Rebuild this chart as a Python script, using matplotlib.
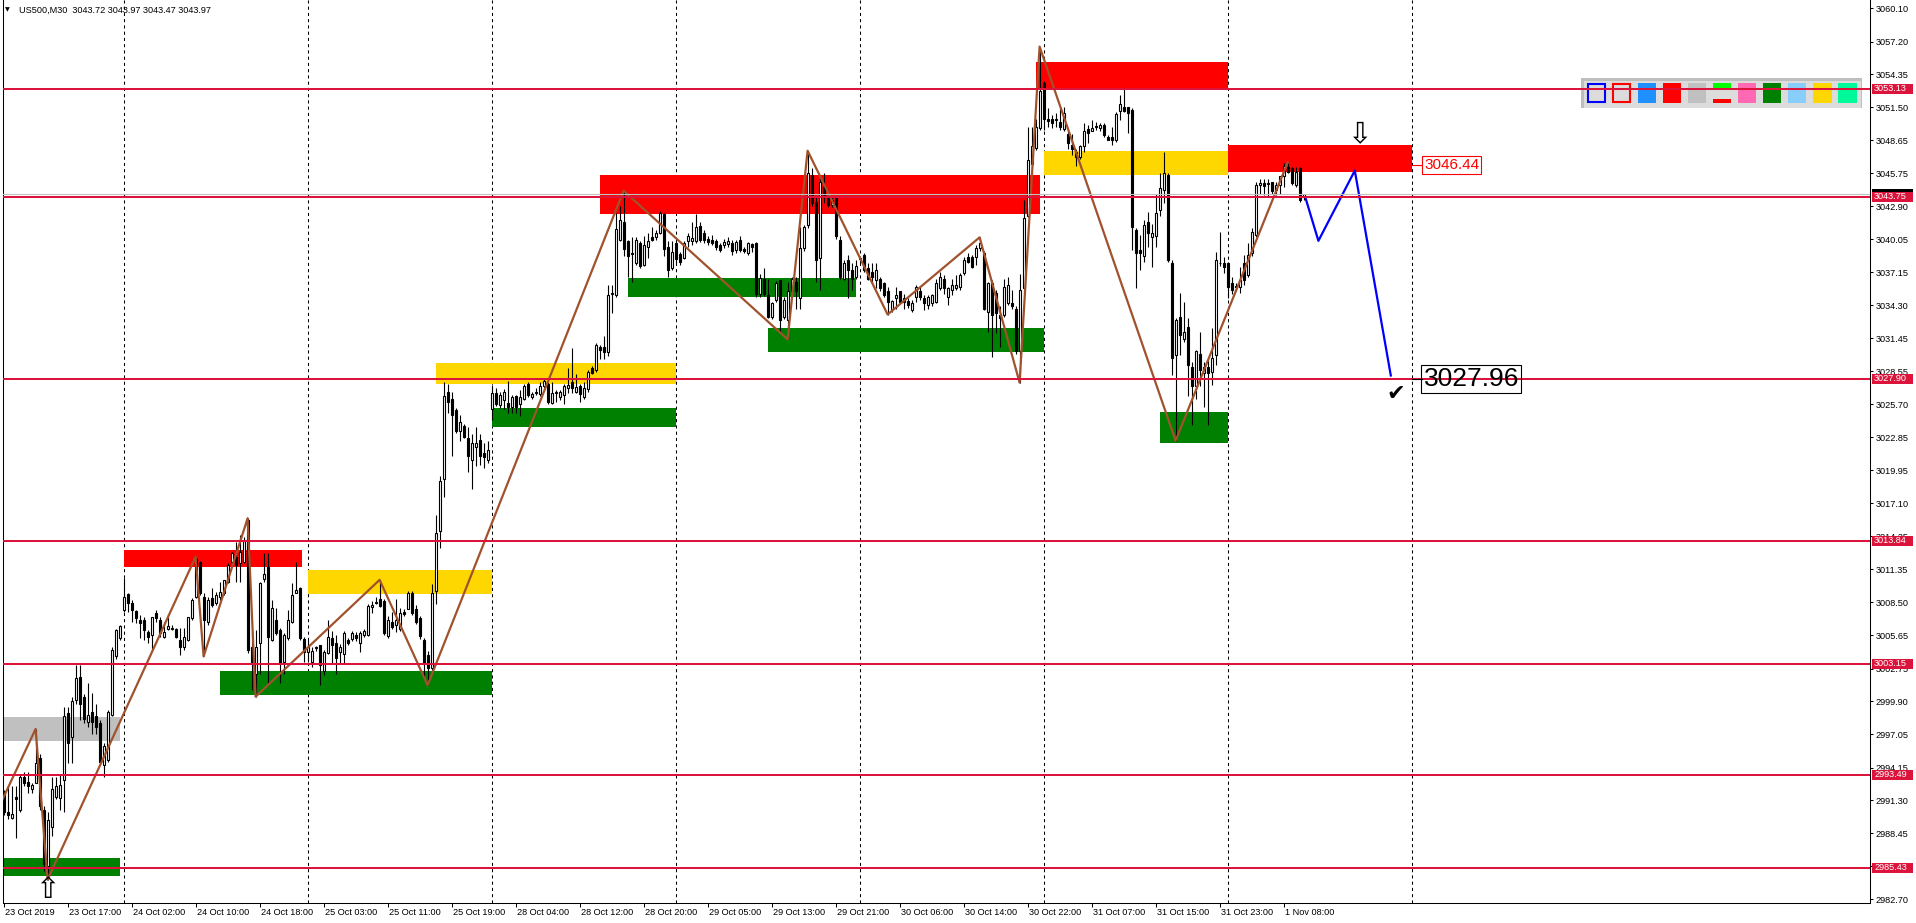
import numpy as np
import matplotlib
matplotlib.use("Agg")
import matplotlib.pyplot as plt
from matplotlib.patches import Rectangle
from matplotlib.transforms import IdentityTransform, ScaledTranslation

plt.rcParams['font.family'] = ['Liberation Sans', 'DejaVu Sans']

# ---------------- data (M30 bars, index 0 = 23 Oct 2019 09:00) ----------------
opens = [
 2992.0, 2990.3, 2989.8, 2991.6, 2990.5, 2993.3, 2992.9, 2992.3, 2992.8, 2995.0,
 2990.5, 2985.6, 2989.0, 2991.6, 2991.5, 2993.1, 2998.9, 2996.8, 3000.0, 3002.0,
 3000.3, 2998.1, 2999.0, 2998.6, 2998.0, 2994.4, 2994.8, 2998.7, 3003.8, 3005.4,
 3007.8, 3009.2, 3008.4, 3007.75, 3007.0, 3007.0, 3005.9, 3005.7, 3007.6, 3007.0,
 3005.45, 3006.15, 3006.2, 3006.15, 3005.2, 3004.6, 3005.2, 3007.1, 3009.0, 3012.0,
 3009.0, 3006.8, 3008.85, 3008.4, 3008.95, 3009.3, 3010.3, 3012.0, 3012.45, 3011.9,
 3012.0, 3015.65, 3004.65, 3002.3, 3004.95, 3010.5, 3011.6, 3005.2, 3007.0, 3006.1,
 3003.35, 3005.4, 3006.8, 3009.35, 3009.7, 3005.3, 3004.2, 3003.35, 3004.65, 3004.8,
 3002.5, 3004.1, 3005.4, 3005.0, 3004.2, 3004.0, 3005.2, 3005.3, 3005.7, 3005.0,
 3005.7, 3005.7, 3008.05, 3008.4, 3008.8, 3008.65, 3005.6, 3006.8, 3006.5, 3006.2,
 3007.65, 3007.9, 3009.3, 3007.9, 3007.1, 3005.25, 3003.9, 3002.8, 3009.45, 3014.7,
 3019.2, 3026.75, 3026.2, 3025.2, 3023.4, 3023.8, 3022.8, 3020.9, 3022.0, 3022.6,
 3021.5, 3020.9, 3025.3, 3026.65, 3025.6, 3026.05, 3025.85, 3025.45, 3026.45, 3025.7,
 3026.2, 3027.5, 3026.3, 3026.7, 3026.6, 3027.3, 3027.5, 3025.8, 3026.7, 3026.35,
 3026.5, 3027.1, 3027.6, 3026.8, 3027.3, 3026.35, 3027.0, 3028.85, 3028.7, 3030.7,
 3030.7, 3030.2, 3035.3, 3035.2, 3040.0, 3041.55, 3039.85, 3038.8, 3038.0, 3039.7,
 3037.8, 3039.4, 3040.2, 3040.2, 3040.6, 3042.2, 3039.4, 3037.5, 3039.7, 3038.75,
 3038.45, 3039.85, 3039.85, 3039.85, 3041.2, 3040.55, 3040.1, 3040.0, 3039.9, 3039.5,
 3039.5, 3039.6, 3039.7, 3039.1, 3040.0, 3039.2, 3038.8, 3039.6, 3039.7, 3035.3,
 3036.6, 3035.2, 3033.3, 3034.8, 3036.5, 3033.3, 3033.0, 3035.5, 3036.35, 3034.9,
 3039.25, 3041.3, 3045.6, 3043.3, 3038.4, 3044.6, 3043.7, 3043.0, 3043.6, 3040.0,
 3036.6, 3038.2, 3037.4, 3036.8, 3038.4, 3038.7, 3037.5, 3037.2, 3036.5, 3036.6,
 3036.2, 3035.5, 3033.95, 3034.9, 3035.5, 3034.9, 3034.7, 3033.9, 3035.05, 3035.5,
 3034.9, 3034.3, 3034.5, 3034.6, 3035.8, 3036.6, 3035.05, 3035.6, 3035.8, 3035.9,
 3037.1, 3038.5, 3038.5, 3038.5, 3039.25, 3038.8, 3033.75, 3036.2, 3035.35, 3033.45,
 3033.45, 3034.5, 3034.5, 3034.0, 3030.3, 3035.8, 3042.1, 3046.6, 3048.0, 3049.7,
 3053.6, 3050.45, 3050.5, 3050.5, 3050.25, 3049.6, 3049.2, 3048.2, 3047.65, 3047.2,
 3048.1, 3049.6, 3049.45, 3049.85, 3049.7, 3049.95, 3048.95, 3048.95, 3048.65, 3051.2,
 3051.5, 3051.5, 3051.25, 3040.85, 3039.1, 3038.6, 3041.55, 3040.25, 3040.3, 3042.6,
 3044.3, 3045.6, 3037.95, 3029.95, 3033.3, 3031.4, 3032.45, 3028.95, 3027.25, 3030.1,
 3028.4, 3028.95, 3028.5, 3029.95, 3037.95, 3037.95, 3037.95, 3036.2, 3035.95, 3035.9,
 3037.95, 3036.9, 3038.8, 3040.4, 3044.75, 3044.95, 3044.9, 3045.05, 3044.3, 3044.75,
 3045.5, 3046.35, 3046.25, 3044.75, 3046.2, 3043.72]
highs = [
 2992.2, 2992.5, 2992.5, 2992.5, 2993.6, 2993.8, 2993.8, 2992.8, 2997.5, 2995.3,
 2990.8, 2990.3, 2993.3, 2993.3, 2993.5, 2999.4, 2999.4, 3000.3, 3003.05, 3003.05,
 3000.5, 3001.5, 3000.6, 2999.7, 2998.3, 2996.25, 2999.15, 3004.6, 3006.2, 3006.5,
 3010.6, 3009.3, 3008.7, 3007.8, 3007.4, 3007.25, 3006.1, 3007.25, 3007.8, 3007.25,
 3006.8, 3007.5, 3006.5, 3006.25, 3006.25, 3006.25, 3007.25, 3008.85, 3012.45, 3012.1,
 3009.3, 3009.0, 3009.7, 3009.4, 3010.3, 3010.45, 3011.9, 3012.9, 3013.75, 3014.35,
 3014.2, 3015.8, 3005.95, 3006.1, 3010.3, 3012.75, 3012.75, 3008.7, 3008.0, 3006.25,
 3005.8, 3007.8, 3010.15, 3012.0, 3009.85, 3005.5, 3005.2, 3004.65, 3004.7, 3004.8,
 3004.35, 3007.0, 3006.0, 3005.7, 3004.9, 3006.0, 3005.4, 3006.0, 3005.9, 3006.0,
 3006.2, 3008.35, 3008.65, 3008.95, 3010.45, 3008.8, 3007.3, 3007.7, 3008.8, 3008.0,
 3007.9, 3009.45, 3009.45, 3008.3, 3007.3, 3005.4, 3004.3, 3010.05, 3016.1, 3019.5,
 3027.6, 3027.45, 3026.8, 3025.4, 3024.8, 3024.0, 3023.7, 3023.1, 3023.7, 3023.1,
 3022.3, 3022.5, 3027.4, 3027.1, 3026.8, 3027.0, 3027.75, 3026.5, 3026.5, 3026.95,
 3027.45, 3027.6, 3026.8, 3027.1, 3027.6, 3027.9, 3027.6, 3027.6, 3026.95, 3026.95,
 3027.45, 3028.85, 3030.55, 3028.35, 3027.45, 3027.6, 3028.7, 3029.0, 3031.0, 3030.85,
 3031.6, 3036.1, 3036.1, 3042.3, 3042.95, 3044.25, 3040.0, 3040.2, 3040.2, 3039.85,
 3040.3, 3040.6, 3041.1, 3040.8, 3042.5, 3042.3, 3039.85, 3039.85, 3040.0, 3038.9,
 3039.85, 3040.6, 3041.55, 3042.2, 3041.5, 3040.8, 3040.3, 3040.4, 3040.1, 3039.7,
 3040.1, 3040.2, 3040.0, 3040.0, 3040.3, 3039.4, 3039.8, 3039.7, 3039.8, 3037.0,
 3037.5, 3036.6, 3034.6, 3036.4, 3036.5, 3035.0, 3036.3, 3036.8, 3036.8, 3041.1,
 3041.3, 3047.73, 3046.2, 3043.7, 3045.5, 3045.8, 3044.0, 3043.7, 3043.75, 3040.3,
 3038.2, 3038.7, 3037.95, 3038.2, 3038.5, 3038.8, 3037.95, 3037.95, 3037.95, 3036.8,
 3036.35, 3035.9, 3034.8, 3035.9, 3035.5, 3035.3, 3034.9, 3034.8, 3036.1, 3035.9,
 3035.2, 3035.2, 3035.3, 3036.6, 3037.2, 3036.9, 3035.9, 3036.6, 3036.9, 3037.1,
 3038.5, 3038.8, 3038.7, 3039.5, 3040.2, 3039.0, 3036.35, 3036.5, 3035.6, 3034.2,
 3036.6, 3036.8, 3035.6, 3034.2, 3037.0, 3043.45, 3049.8, 3049.8, 3050.5, 3056.77,
 3053.75, 3051.4, 3050.8, 3051.0, 3051.4, 3051.55, 3049.4, 3049.2, 3047.9, 3048.2,
 3050.1, 3049.95, 3050.4, 3050.25, 3050.1, 3050.1, 3049.1, 3049.8, 3051.1, 3052.55,
 3053.05, 3051.55, 3051.4, 3041.0, 3040.4, 3041.7, 3042.4, 3041.4, 3044.0, 3045.8,
 3047.65, 3045.8, 3038.2, 3033.2, 3035.35, 3034.6, 3033.2, 3029.4, 3030.4, 3032.0,
 3029.4, 3029.55, 3032.3, 3038.95, 3040.7, 3038.5, 3038.1, 3036.8, 3036.2, 3037.65,
 3038.7, 3039.7, 3041.0, 3045.05, 3045.3, 3045.3, 3045.3, 3045.05, 3045.05, 3045.5,
 3046.7, 3046.7, 3046.35, 3046.35, 3046.35, 3043.97]
lows = [
 2990.0, 2989.7, 2989.7, 2988.0, 2990.3, 2992.5, 2991.9, 2991.9, 2992.8, 2990.5,
 2985.2, 2984.4, 2988.2, 2991.4, 2990.5, 2990.3, 2994.5, 2994.5, 2999.7, 2998.3,
 2998.0, 2997.7, 2997.1, 2997.1, 2994.4, 2993.35, 2994.65, 2998.6, 3003.6, 3005.2,
 3007.7, 3007.7, 3006.8, 3006.7, 3005.4, 3005.2, 3004.95, 3004.4, 3006.8, 3005.5,
 3005.4, 3006.1, 3006.1, 3005.4, 3003.9, 3004.35, 3005.1, 3007.0, 3008.85, 3009.15,
 3003.8, 3006.5, 3008.1, 3008.3, 3008.7, 3009.15, 3010.15, 3011.9, 3010.3, 3010.3,
 3011.9, 3004.1, 3000.9, 3000.3, 3002.3, 3010.3, 3001.45, 3005.1, 3005.7, 3001.45,
 3002.3, 3005.2, 3006.7, 3009.3, 3005.2, 3003.35, 3003.35, 3002.9, 3004.3, 3001.3,
 3002.2, 3004.0, 3003.1, 3002.3, 3003.1, 3003.1, 3004.8, 3005.1, 3005.1, 3004.2,
 3005.5, 3005.6, 3007.6, 3008.35, 3008.05, 3005.7, 3005.4, 3006.2, 3005.9, 3006.0,
 3007.3, 3007.9, 3007.4, 3006.6, 3005.3, 3002.0, 3001.3, 3002.6, 3008.35, 3013.2,
 3017.65, 3024.95, 3021.2, 3023.25, 3022.5, 3022.8, 3019.8, 3018.3, 3020.3, 3020.45,
 3020.15, 3020.6, 3024.3, 3025.55, 3025.4, 3025.25, 3024.95, 3024.95, 3024.95, 3024.65,
 3026.05, 3026.35, 3026.2, 3026.5, 3026.4, 3026.95, 3025.7, 3025.7, 3025.9, 3026.05,
 3025.7, 3026.65, 3026.65, 3026.65, 3025.9, 3026.2, 3026.8, 3028.3, 3028.5, 3029.6,
 3029.6, 3029.9, 3033.65, 3035.05, 3039.85, 3038.6, 3036.75, 3036.3, 3037.8, 3037.5,
 3037.7, 3038.45, 3039.85, 3040.0, 3040.45, 3038.6, 3036.75, 3037.35, 3038.0, 3037.8,
 3038.3, 3039.4, 3039.55, 3039.7, 3039.8, 3039.7, 3039.5, 3039.5, 3039.1, 3038.9,
 3039.3, 3039.4, 3038.7, 3038.8, 3038.9, 3038.8, 3038.7, 3038.9, 3035.0, 3035.0,
 3035.1, 3033.2, 3033.1, 3034.6, 3032.0, 3033.1, 3031.34, 3035.3, 3034.0, 3034.0,
 3039.0, 3041.0, 3042.9, 3036.35, 3035.6, 3043.2, 3042.8, 3042.8, 3040.1, 3036.6,
 3036.5, 3034.9, 3035.6, 3036.6, 3037.95, 3037.2, 3036.5, 3036.2, 3035.8, 3035.5,
 3035.05, 3033.5, 3033.75, 3034.0, 3034.5, 3034.0, 3034.1, 3033.75, 3034.6, 3034.8,
 3033.9, 3034.0, 3034.2, 3034.5, 3035.6, 3035.3, 3034.3, 3035.2, 3035.6, 3035.6,
 3036.9, 3037.95, 3037.5, 3037.8, 3039.0, 3033.9, 3032.0, 3029.8, 3031.9, 3030.7,
 3033.3, 3034.3, 3034.0, 3030.1, 3027.58, 3035.5, 3042.0, 3046.3, 3047.8, 3049.5,
 3049.5, 3049.8, 3049.7, 3049.8, 3049.5, 3049.4, 3047.9, 3047.35, 3046.4, 3047.05,
 3047.65, 3048.4, 3049.4, 3049.5, 3049.4, 3048.95, 3048.65, 3048.2, 3048.5, 3050.4,
 3051.1, 3049.25, 3039.1, 3035.8, 3037.4, 3038.1, 3039.4, 3037.65, 3039.4, 3042.1,
 3043.15, 3038.1, 3028.25, 3022.54, 3030.0, 3031.1, 3026.4, 3023.9, 3026.2, 3027.25,
 3025.5, 3023.9, 3027.4, 3029.1, 3037.7, 3037.1, 3034.9, 3035.3, 3035.5, 3035.35,
 3036.1, 3036.8, 3038.6, 3040.25, 3044.0, 3043.9, 3043.75, 3044.0, 3043.9, 3044.0,
 3044.6, 3045.75, 3044.75, 3044.6, 3043.3, 3043.47]
closes = [
 2990.3, 2990.0, 2990.1, 2991.4, 2993.3, 2992.8, 2992.5, 2992.6, 2994.5, 2990.8,
 2985.8, 2989.6, 2992.3, 2992.5, 2992.6, 2998.6, 2996.25, 2999.9, 3001.9, 2999.7,
 2998.4, 2998.7, 2998.1, 2997.7, 2994.65, 2996.0, 2999.0, 3004.4, 3006.1, 3006.4,
 3009.0, 3008.4, 3007.8, 3007.1, 3006.7, 3006.1, 3005.5, 3007.2, 3007.1, 3005.8,
 3005.95, 3006.45, 3006.25, 3005.45, 3004.65, 3005.5, 3007.2, 3008.7, 3012.3, 3009.3,
 3007.0, 3008.7, 3008.3, 3009.1, 3009.4, 3010.4, 3011.75, 3012.75, 3011.75, 3012.9,
 3013.9, 3004.35, 3003.35, 3004.65, 3010.15, 3011.0, 3005.5, 3008.0, 3005.8, 3003.2,
 3005.65, 3007.0, 3009.1, 3009.55, 3005.4, 3004.2, 3004.65, 3004.3, 3004.5, 3003.05,
 3004.2, 3005.5, 3004.8, 3003.7, 3004.6, 3005.8, 3004.95, 3005.8, 3005.4, 3005.8,
 3006.0, 3008.2, 3008.25, 3008.5, 3008.2, 3005.8, 3007.0, 3006.35, 3007.0, 3007.55,
 3007.45, 3009.3, 3007.6, 3006.8, 3005.55, 3003.1, 3002.8, 3009.3, 3014.55, 3019.0,
 3026.45, 3025.9, 3024.8, 3023.4, 3024.2, 3022.9, 3021.2, 3022.3, 3022.3, 3021.2,
 3021.1, 3021.7, 3026.65, 3025.7, 3026.5, 3026.75, 3025.45, 3026.35, 3025.5, 3026.35,
 3027.3, 3026.5, 3026.6, 3026.75, 3027.3, 3027.75, 3025.9, 3026.65, 3026.75, 3026.75,
 3027.3, 3027.4, 3027.1, 3027.2, 3026.6, 3027.1, 3028.5, 3028.4, 3030.85, 3030.4,
 3030.2, 3035.2, 3035.4, 3040.9, 3041.7, 3039.2, 3038.6, 3038.75, 3040.0, 3037.7,
 3039.5, 3039.9, 3040.0, 3040.6, 3042.3, 3039.2, 3037.4, 3038.9, 3038.3, 3038.1,
 3039.7, 3040.3, 3040.15, 3041.1, 3040.0, 3039.97, 3039.8, 3039.7, 3039.4, 3039.1,
 3039.8, 3039.9, 3039.0, 3039.8, 3039.1, 3039.05, 3039.7, 3039.4, 3035.3, 3036.7,
 3035.3, 3033.3, 3034.5, 3036.2, 3033.0, 3034.8, 3035.5, 3036.6, 3035.5, 3039.25,
 3041.1, 3045.8, 3043.2, 3038.2, 3045.0, 3043.7, 3043.0, 3043.45, 3040.3, 3036.8,
 3037.95, 3037.4, 3036.6, 3037.7, 3038.35, 3037.4, 3036.6, 3036.8, 3037.4, 3035.8,
 3035.2, 3034.6, 3034.7, 3035.2, 3034.6, 3034.6, 3034.3, 3034.5, 3035.9, 3035.05,
 3034.5, 3035.05, 3035.2, 3036.2, 3036.8, 3035.8, 3035.8, 3036.1, 3036.1, 3036.9,
 3038.2, 3038.1, 3037.65, 3039.25, 3039.7, 3034.0, 3036.2, 3033.45, 3033.6, 3033.2,
 3035.9, 3036.1, 3034.2, 3030.3, 3035.6, 3041.85, 3046.9, 3048.1, 3049.8, 3052.9,
 3050.5, 3050.35, 3050.15, 3050.4, 3049.8, 3051.0, 3048.4, 3047.85, 3047.2, 3048.1,
 3049.4, 3049.25, 3049.7, 3049.8, 3049.95, 3049.1, 3048.7, 3048.65, 3050.95, 3051.75,
 3051.2, 3051.0, 3041.1, 3038.8, 3038.8, 3041.3, 3040.55, 3040.55, 3042.3, 3044.5,
 3045.8, 3038.2, 3029.7, 3033.0, 3031.7, 3032.0, 3029.1, 3027.25, 3030.3, 3028.7,
 3028.95, 3028.4, 3029.7, 3038.2, 3038.0, 3037.65, 3035.9, 3035.6, 3035.9, 3036.5,
 3036.5, 3038.65, 3040.7, 3044.75, 3044.9, 3044.65, 3044.85, 3044.2, 3044.75, 3045.5,
 3046.4, 3045.9, 3044.9, 3045.9, 3043.45, 3043.97]

# zigzag indicator pivots (bar index, price)
zz_bars = [-2, 8, 11, 48, 50, 61, 63, 94, 106, 155, 196, 201, 221, 244, 254, 259, 293, 321]
zz_prices = [2990.1, 2997.5, 2984.4, 3012.45, 3003.8, 3015.8, 3000.3, 3010.45, 3001.3,
             3044.25, 3031.34, 3047.73, 3033.5, 3040.2, 3027.58, 3056.77, 3022.54, 3046.7]

# projected path (blue)
proj_bars = [325.5, 328.7, 337.8, 346.8]
proj_prices = [3043.6, 3039.9, 3046.0, 3028.2]

# supply / demand zones: start bar, end bar, top, bottom, colour
zone_start = [-5, -5, 30, 76, 54, 108, 122, 149, 156, 191, 258, 260, 289, 306]
zone_end = [29, 29, 74.7, 122, 122, 168, 168, 259, 213, 260, 306, 306, 306, 352]
zone_top = [2998.55, 2986.3, 3013.05, 3011.3, 3002.5, 3029.25, 3025.35, 3045.62,
            3036.7, 3032.35, 3055.4, 3047.7, 3025.0, 3048.22]
zone_bottom = [2996.45, 2984.75, 3011.6, 3009.2, 3000.45, 3027.45, 3023.7, 3042.22,
               3035.0, 3030.2, 3053.2, 3045.6, 3022.3, 3045.9]
zone_color = ['#C0C0C0', '#008000', '#FF0000', '#FFD700', '#008000', '#FFD700', '#008000',
              '#FF0000', '#008000', '#008000', '#FF0000', '#FFD700', '#008000', '#FF0000']

# horizontal levels
levels = [3053.13, 3043.75, 3027.90, 3013.84, 3003.15, 2993.49, 2985.43]
bid = 3043.97

day_starts = [30, 76, 122, 168, 214, 260, 306, 352]

ytick_vals = [3060.10, 3057.20, 3054.35, 3051.50, 3048.65, 3045.75, 3042.90, 3040.05,
              3037.15, 3034.30, 3031.45, 3028.55, 3025.70, 3022.85, 3019.95, 3017.10,
              3014.25, 3011.35, 3008.50, 3005.65, 3002.75, 2999.90, 2997.05, 2994.15,
              2991.30, 2988.45, 2985.60, 2982.70]
xtick_bars = list(range(0, 321, 16))
xtick_labels = ['23 Oct 2019', '23 Oct 17:00', '24 Oct 02:00', '24 Oct 10:00', '24 Oct 18:00',
                '25 Oct 03:00', '25 Oct 11:00', '25 Oct 19:00', '28 Oct 04:00', '28 Oct 12:00',
                '28 Oct 20:00', '29 Oct 05:00', '29 Oct 13:00', '29 Oct 21:00', '30 Oct 06:00',
                '30 Oct 14:00', '30 Oct 22:00', '31 Oct 07:00', '31 Oct 15:00', '31 Oct 23:00',
                '1 Nov 08:00']

panel_colors = ['#0000FF', '#FF0000', '#1E90FF', '#FF0000', '#C0C0C0', '#00FF00',
                '#FF69B4', '#008000', '#87CEFA', '#FFD700', '#00FA9A']

# ---------------- figure ----------------
W, H = 1916, 923
fig = plt.figure(figsize=(W / 100, H / 100), dpi=100, facecolor='white')
ax = fig.add_axes([2.5 / W, 20 / H, (1870 - 2.5) / W, 903 / H])
ax.set_xlim(-0.275, 466.6)
ax.set_ylim(2982.38, 3060.82)
ax.set_facecolor('white')

o = np.array(opens); h = np.array(highs); l = np.array(lows); c = np.array(closes)
idx = np.arange(len(o))
up = c >= o
lo_b = np.minimum(o, c)
hb = np.maximum(np.abs(c - o), 0.03)

# zones
for x0, x1, t, b, col in zip(zone_start, zone_end, zone_top, zone_bottom, zone_color):
    ax.add_patch(Rectangle((x0, b), x1 - x0, t - b, facecolor=col, edgecolor='none', zorder=1))

# daily grid
for d in day_starts:
    ax.axvline(d, color='black', lw=0.75, ls=(0, (3, 3)), zorder=0.5)

# candles
ax.vlines(idx, l, h, color='black', lw=0.8, zorder=3)
ax.bar(idx[up], hb[up], 0.5, bottom=lo_b[up], color='white', edgecolor='black', linewidth=0.8, zorder=4)
ax.bar(idx[~up], hb[~up], 0.5, bottom=lo_b[~up], color='black', edgecolor='black', linewidth=0.8, zorder=4)

# zigzag and projection
ax.plot(zz_bars, zz_prices, color='#A0522D', lw=1.6, zorder=5)
ax.plot(proj_bars, proj_prices, color='#0000FF', lw=1.6, zorder=5)

# bid line and levels
ax.axhline(bid, color='#C0C0C0', lw=0.8, zorder=5.8)
for p in levels:
    ax.axhline(p, color='#DC143C', lw=1.45, zorder=6)

# arrows / check mark
ax.text(11, 2983.55, '\u21e7', ha='center', va='center', fontsize=21, family='DejaVu Sans', zorder=7)
ax.text(338.85, 3049.2, '\u21e9', ha='center', va='center', fontsize=21, family='DejaVu Sans', zorder=7)
ax.text(348.1, 3026.6, '\u2714', ha='center', va='center', fontsize=16, family='DejaVu Sans', zorder=7)

# target labels
ax.plot([351.9, 354.8], [3046.49, 3046.49], color='red', lw=0.8, zorder=6)
ax.text(355.1, 3046.49, '3046.44', color='red', fontsize=11, va='center', ha='left', zorder=7,
        bbox=dict(boxstyle='square,pad=0.12', fc='white', ec='red', lw=0.8))
ax.plot([352.0, 354.6], [3027.92, 3027.92], color='black', lw=0.8, zorder=6)
ax.text(355.0, 3027.92, '3027.96', color='black', fontsize=19, va='center', ha='left', zorder=7,
        bbox=dict(boxstyle='square,pad=0.08', fc='none', ec='black', lw=0.8))

# ticks
ax.yaxis.tick_right()
ax.set_yticks(ytick_vals)
ax.set_yticklabels([f'{v:.2f}' for v in ytick_vals])
ax.tick_params(axis='y', direction='out', length=2.2, width=0.75, pad=2.0, labelsize=6.6, colors='black')
ax.set_xticks(xtick_bars)
ax.set_xticklabels(xtick_labels)
ax.tick_params(axis='x', direction='out', length=3, width=0.75, pad=0.6, labelsize=6.6, colors='black')
off = ScaledTranslation(1.5 / 100, 0, fig.dpi_scale_trans)
for lbl in ax.get_xticklabels():
    lbl.set_ha('left')
    lbl.set_transform(lbl.get_transform() + off)
for s in ['left', 'right', 'bottom']:
    ax.spines[s].set_color('black')
    ax.spines[s].set_linewidth(0.75)
ax.spines['top'].set_visible(False)

# tool panel (top right)
ident = IdentityTransform()
def ytop(y):
    return H - y
ax.add_patch(Rectangle((1581, ytop(107.5)), 281, 30, transform=ident, fc='#BEBEBE', ec='none',
                       zorder=5.5, clip_on=False))
ax.add_patch(Rectangle((1584, ytop(107.5)), 277, 27, transform=ident, fc='#DCDCDC', ec='none',
                       zorder=5.51, clip_on=False))
for k, col in enumerate(panel_colors):
    x = 1587.3 + 25.1 * k
    if k < 2:
        ax.add_patch(Rectangle((x + 1, ytop(101.7)), 16.3, 17.4, transform=ident, fc='none', ec=col,
                               lw=1.5, zorder=5.6, clip_on=False))
    elif k == 5:
        ax.add_patch(Rectangle((x, ytop(88.3)), 18.3, 5, transform=ident, fc=col, ec='none',
                               zorder=5.6, clip_on=False))
        ax.add_patch(Rectangle((x, ytop(102.7)), 18.3, 3.6, transform=ident, fc='#FF0000', ec='none',
                               zorder=5.6, clip_on=False))
    else:
        ax.add_patch(Rectangle((x, ytop(102.7)), 18.3, 19.4, transform=ident, fc=col, ec='none',
                               zorder=5.6, clip_on=False))

# right-axis price labels
def ypx(p):
    return ax.transData.transform((0, p))[1]

yb = ypx(bid)
fig.add_artist(Rectangle((1871.5, yb - 5), 41, 10, transform=ident, fc='black', ec='none', zorder=9))
for p in levels:
    yy = ypx(p)
    fig.add_artist(Rectangle((1871.5, yy - 5), 41, 10, transform=ident, fc='#DC143C', ec='none', zorder=10))
    fig.text(1874, yy + 0.3, f'{p:.2f}', transform=ident, color='white', fontsize=6.6,
             va='center', ha='left', zorder=11)

# title
fig.text(5, H - 10, '\u25bc', transform=ident, fontsize=4.5, family='DejaVu Sans', va='center', ha='left')
fig.text(19, H - 10, 'US500,M30  3043.72 3043.97 3043.47 3043.97', transform=ident, fontsize=6.6,
         va='center', ha='left', color='black')

fig.savefig('out.png', dpi=100, facecolor='white')
